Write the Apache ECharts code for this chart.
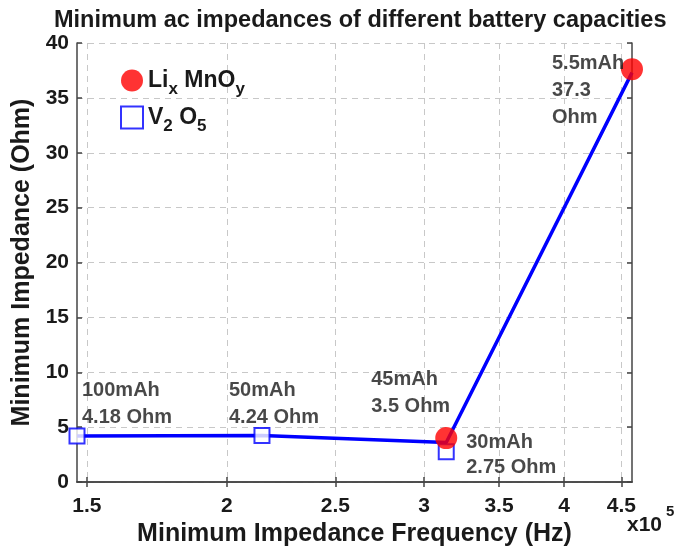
<!DOCTYPE html>
<html>
<head>
<meta charset="utf-8">
<script src="https://cdn.jsdelivr.net/npm/echarts@6/dist/echarts.min.js"></script>
<style>
  html, body { margin: 0; padding: 0; background: #fff; }
  #chart { width: 676px; height: 552px; }
</style>
</head>
<body>
<div id="chart"></div>
<script>
// frequency ticks (Hz), shown as x10^5
const freqTicks = [150000, 200000, 250000, 300000, 350000, 400000, 450000]

// blue connecting line
const lineFreq = [147000, 215000, 314000, 460000]
const lineImp = [4.18, 4.24, 3.6, 37.3]

// V2O5 points (squares)
const v2o5Freq = [147000, 215000, 314000]
const v2o5Imp = [4.18, 4.24, 2.75]
const v2o5Cap = ['100mAh', '50mAh', '30mAh']
const v2o5Ohm = ['4.18 Ohm', '4.24 Ohm', '2.75 Ohm']

// LixMnOy points (circles)
const limnFreq = [314000, 460000]
const limnImp = [4.0, 37.6]
const limnCap = ['45mAh', '5.5mAh']
const limnOhm = ['3.5 Ohm', '37.3\nOhm']

const font = 'Liberation Sans, Arial, Helvetica, sans-serif'
const ink = '#1a1a1a'

// label placement per point
const v2o5LabelPos = [
  { offset: [5, -5], verticalAlign: 'bottom' },
  { offset: [-33, -4], verticalAlign: 'bottom' },
  { offset: [20, 3], verticalAlign: 'middle', lineHeight: 25 }
]
const limnLabelPos = [
  { offset: [-75, -18], verticalAlign: 'bottom' },
  { offset: [-80, -19], verticalAlign: 'top' }
]

const pointLabel = (pos) => ({
  show: true,
  position: 'inside',
  align: 'left',
  color: ink,
  fontFamily: font,
  fontWeight: 'bold',
  fontSize: 20,
  lineHeight: 27,
  ...pos
})

const chart = echarts.init(document.getElementById('chart'))

const xCommon = {
  type: 'log',
  min: 147000,
  max: 460000,
  axisLine: { show: true, lineStyle: { color: '#444', width: 1.5 } },
  axisTick: { show: true, inside: true, length: 5, customValues: freqTicks, lineStyle: { color: '#444', width: 1.5 } }
}
const yCommon = {
  type: 'value',
  min: 0,
  max: 40,
  interval: 5,
  axisLine: { show: true, lineStyle: { color: '#444', width: 1.5 } },
  axisTick: { show: true, inside: true, length: 5, lineStyle: { color: '#444', width: 1.5 } }
}

chart.setOption({
  backgroundColor: '#fff',
  animation: false,
  title: {
    text: 'Minimum ac impedances of different battery capacities',
    left: 54,
    top: 9,
    padding: 0,
    textStyle: { fontFamily: font, fontWeight: 'bold', fontSize: 23.5, color: ink }
  },
  grid: { left: 77, right: 44, top: 43, bottom: 70 },
  legend: {
    left: 120,
    top: 69,
    padding: 0,
    orient: 'vertical',
    itemWidth: 22,
    itemHeight: 22,
    itemGap: 8,
    data: ['LixMnOy', 'V2O5'],
    formatter: (name) => name === 'LixMnOy'
      ? '{n|Li}{s|x}{n| MnO}{s|y}'
      : '{n|V}{s|2}{n| O}{s|5}',
    textStyle: {
      rich: {
        n: { fontFamily: font, fontWeight: 'bold', fontSize: 23, color: ink, lineHeight: 34, verticalAlign: 'middle' },
        s: { fontFamily: font, fontWeight: 'bold', fontSize: 17, color: ink, lineHeight: 10, verticalAlign: 'bottom' }
      }
    }
  },
  xAxis: [{
    ...xCommon,
    position: 'bottom',
    name: 'Minimum Impedance Frequency (Hz)',
    nameLocation: 'middle',
    nameGap: 31,
    nameTextStyle: { fontFamily: font, fontWeight: 'bold', fontSize: 25, color: ink },
    axisLabel: {
      customValues: freqTicks,
      formatter: (v) => String(v / 1e5),
      fontFamily: font, fontWeight: 'bold', fontSize: 21, color: ink, margin: 14
    },
    splitLine: { show: true, lineStyle: { color: '#c8c8c8', type: [6, 5], width: 1 } }
  }, {
    ...xCommon,
    position: 'top',
    axisLabel: { show: false },
    splitLine: { show: false }
  }],
  yAxis: [{
    ...yCommon,
    position: 'left',
    name: 'Minimum Impedance (Ohm)',
    nameLocation: 'middle',
    nameGap: 35,
    nameTextStyle: { fontFamily: font, fontWeight: 'bold', fontSize: 25, color: ink },
    axisLabel: { fontFamily: font, fontWeight: 'bold', fontSize: 21, color: ink, margin: 8 },
    splitLine: { show: true, lineStyle: { color: '#c8c8c8', type: [6, 5], width: 1 } }
  }, {
    ...yCommon,
    position: 'right',
    axisLabel: { show: false },
    splitLine: { show: false }
  }],
  graphic: [
    { type: 'text', left: 627, top: 515, style: { text: 'x10', fontFamily: font, fontWeight: 'bold', fontSize: 21, fill: ink } },
    { type: 'text', left: 666, top: 504, style: { text: '5', fontFamily: font, fontWeight: 'bold', fontSize: 15, fill: ink } }
  ],
  series: [
    {
      name: 'line',
      type: 'line',
      data: lineFreq.map((f, i) => [f, lineImp[i]]),
      showSymbol: false,
      lineStyle: { color: '#0000ff', width: 3.5 },
      itemStyle: { color: '#0000ff' },
      z: 2
    },
    {
      name: 'V2O5',
      type: 'scatter',
      symbol: 'rect',
      symbolSize: 15,
      itemStyle: { color: '#fff', borderColor: '#0000ff', borderWidth: 2 },
      data: v2o5Freq.map((f, i) => ({
        value: [f, v2o5Imp[i]],
        label: pointLabel({ ...v2o5LabelPos[i], formatter: v2o5Cap[i] + '\n' + v2o5Ohm[i] })
      })),
      z: 3
    },
    {
      name: 'LixMnOy',
      type: 'scatter',
      symbol: 'circle',
      symbolSize: 22,
      itemStyle: { color: '#ff0000' },
      data: limnFreq.map((f, i) => ({
        value: [f, limnImp[i]],
        label: pointLabel({ ...limnLabelPos[i], formatter: limnCap[i] + '\n' + limnOhm[i] })
      })),
      z: 4
    }
  ]
})
</script>
</body>
</html>
